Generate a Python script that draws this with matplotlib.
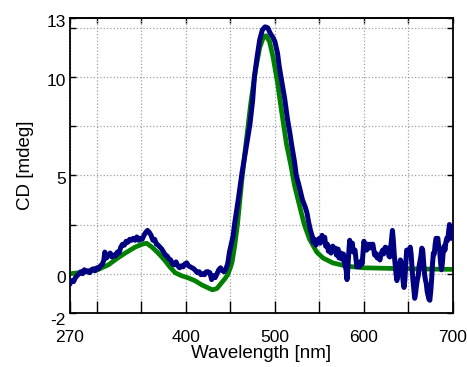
import matplotlib
matplotlib.use("Agg")
import matplotlib.pyplot as plt
import matplotlib.transforms as mtransforms

plt.rcParams['font.family'] = ['Liberation Sans', 'DejaVu Sans']

# fitted curve (green)
wl_fit = [270, 280, 290, 301, 313, 322, 332, 343, 351, 356, 362, 369, 376, 382,
          388, 395, 402, 410, 418, 425, 430, 435, 440, 444, 447, 450, 452, 455,
          458, 463, 468, 473, 478, 483, 487, 490, 494, 498, 503, 508, 513, 518,
          522, 528, 533, 539, 547, 554, 565, 581, 600, 650, 700]
cd_fit = [0.0, 0.05, 0.1, 0.2, 0.45, 0.75, 1.05, 1.35, 1.5, 1.55, 1.35, 1.05, 0.7, 0.35,
          0.05, -0.1, -0.2, -0.35, -0.57, -0.72, -0.82, -0.75, -0.47, -0.25, -0.05, 0.3, 0.6, 1.45,
          2.5, 4.8, 6.8, 8.7, 10.3, 11.5, 12.0, 12.1, 11.8, 11.0, 9.7, 8.1, 6.6, 5.5,
          4.5, 3.4, 2.5, 1.75, 1.1, 0.8, 0.55, 0.38, 0.3, 0.25, 0.22]

# measured spectrum (dark blue)
wl_data = [270, 272, 274, 276, 278, 280, 282, 284, 286, 288, 290, 292, 294, 296,
           298, 300, 302, 304, 306, 308, 309, 311, 313, 315, 317, 319, 321, 323,
           325, 327, 329, 331, 333, 335, 337, 339, 341, 343, 345, 347, 349, 351,
           353, 355, 357, 359, 361, 363, 365, 367, 369, 371, 373, 375, 377, 379,
           381, 383, 385, 387, 389, 391, 393, 395, 397, 399, 401, 403, 405, 407,
           409, 411, 413, 415, 417, 419, 421, 423, 425, 427, 429, 431, 433, 435,
           437, 439, 441, 443, 445, 447, 449, 451, 453, 455, 459, 463, 468, 472,
           475, 477, 480, 483, 486, 489, 492, 495, 498, 500, 503, 505, 508, 511,
           514, 517, 519, 522, 524, 527, 531, 534, 536, 538, 540, 542, 543, 545,
           546, 548, 550, 551, 553, 554, 556, 557, 559, 560, 562, 563, 565, 566,
           568, 569, 571, 572, 574, 575, 577, 578, 580, 581, 582, 583, 584, 585,
           587, 588, 590, 591, 592, 594, 595, 597, 598, 599, 600, 601, 603, 604,
           606, 607, 609, 610, 612, 613, 615, 616, 618, 619, 621, 622, 624, 625,
           627, 628, 629, 630, 632, 633, 634, 635, 636, 637, 638, 639, 641, 642,
           643, 644, 645, 646, 647, 648, 650, 651, 652, 653, 654, 655, 656, 657,
           658, 659, 660, 661, 662, 664, 665, 666, 667, 668, 669, 670, 671, 672,
           673, 674, 675, 676, 677, 678, 679, 680, 681, 682, 683, 684, 685, 686,
           687, 688, 689, 690, 691, 692, 693, 694, 695, 696, 697, 698, 699, 700]
cd_data = [-0.5, -0.35, -0.4, -0.2, -0.1, 0.0, 0.1, 0.0, 0.2, 0.1, 0.15, 0.05, 0.2, 0.25,
           0.15, 0.3, 0.25, 0.4, 0.45, 0.7, 1.1, 0.8, 0.95, 1.05, 0.85, 0.95, 0.9, 1.1,
           1.05, 1.35, 1.5, 1.45, 1.65, 1.6, 1.75, 1.7, 1.8, 1.7, 1.87, 1.7, 1.8, 1.75,
           1.95, 2.1, 2.2, 2.1, 1.95, 1.7, 1.75, 1.5, 1.45, 1.35, 1.25, 1.1, 0.95, 0.9,
           0.75, 0.7, 0.5, 0.45, 0.6, 0.4, 0.3, 0.4, 0.35, 0.5, 0.55, 0.4, 0.35, 0.3,
           0.25, 0.15, 0.05, 0.1, -0.05, 0.0, -0.05, 0.1, 0.1, 0.05, -0.3, -0.1, -0.2, 0.0,
           0.2, 0.3, 0.15, 0.1, 0.25, 0.5, 1.1, 1.5, 1.9, 2.6, 3.8, 5.1, 6.5, 7.6,
           8.8, 10.0, 11.0, 11.9, 12.4, 12.55, 12.5, 12.2, 12.0, 11.8, 11.2, 10.5, 9.7, 8.9,
           7.9, 7.1, 6.5, 5.7, 5.0, 4.5, 3.75, 3.4, 3.1, 2.6, 2.2, 1.9, 1.6, 1.75,
           1.45, 1.6, 1.8, 1.55, 1.95, 1.7, 1.85, 1.4, 1.5, 1.15, 1.35, 1.05, 1.4, 1.2,
           1.3, 0.95, 1.25, 0.8, 1.05, 0.75, 1.0, 0.55, 0.2, -0.3, 0.3, 1.1, 1.7, 1.4,
           1.55, 1.1, 1.2, 0.75, 0.35, 0.55, 0.35, 0.65, 0.5, 1.1, 1.65, 1.45, 1.2, 1.5,
           1.3, 1.5, 1.35, 1.5, 0.95, 1.05, 0.8, 0.95, 0.7, 1.0, 1.2, 1.0, 1.35, 1.15,
           1.3, 0.9, 0.85, 1.3, 2.2, 1.7, 1.0, 0.5, 0.0, -0.35, -0.1, 0.3, 0.7, 0.55,
           0.1, -0.4, -0.7, -0.3, 0.5, 1.2, 1.05, 1.2, 1.35, 1.0, 0.3, -0.3, -0.8, -1.25,
           -1.0, -0.6, -0.3, -0.1, 0.4, 0.9, 1.3, 1.2, 0.6, 0.0, -0.3, -0.5, -0.9, -1.1,
           -1.3, -1.35, -0.9, -0.3, 0.5, 1.05, 1.0, 1.5, 1.8, 1.7, 1.8, 1.35, 1.2, 0.6,
           0.2, 0.5, 1.1, 1.4, 1.2, 1.6, 1.8, 1.7, 2.1, 2.5, 2.3, 1.8, 2.0, 2.35]

x_ticks = [270, 300, 350, 400, 450, 500, 550, 600, 650, 700]
x_labels = ['270', '', '', '400', '', '500', '', '600', '', '700']
y_ticks = [-2, 0, 2.5, 5, 7.5, 10, 12.5, 13]
y_labels = ['-2', '0', '', '5', '', '10', '', '13']

fig = plt.figure(figsize=(4.67, 3.67), dpi=100)
ax = fig.add_axes([0.150, 0.147, 0.820, 0.804])

ax.plot(wl_fit, cd_fit, color='#008000', lw=3.4, solid_capstyle='round', zorder=2)
ax.plot(wl_data, cd_data, color='#000080', lw=3.6, solid_joinstyle='round', zorder=3)

ax.set_xlim(270, 700)
ax.set_ylim(-2, 13)
ax.set_xticks(x_ticks)
ax.set_xticklabels(x_labels)
ax.set_yticks(y_ticks)
ax.set_yticklabels(y_labels)

ax.grid(True, color='#a0a0a0', linestyle=':', linewidth=0.9)
ax.tick_params(axis='x', direction='in', length=9, width=1.0, labelsize=12.5, pad=12)
ax.tick_params(axis='y', direction='in', length=4.5, width=1.0, labelsize=12.5,
               right=True, pad=3)

# y tick labels sit a little low in the original
for lab, txt in zip(ax.get_yticklabels(), y_labels):
    dy = -6 if txt == '-2' else -3
    lab.set_transform(lab.get_transform() +
                      mtransforms.ScaledTranslation(0, dy / 100, fig.dpi_scale_trans))

top = ax.secondary_xaxis('top')
top.set_xticks(x_ticks)
top.tick_params(direction='in', length=3.5, width=1.0, labeltop=False)

for sp in list(ax.spines.values()) + list(top.spines.values()):
    sp.set_linewidth(1.3)

ax.set_xlabel('Wavelength [nm]', fontsize=13.5, labelpad=0)
ax.set_ylabel('CD [mdeg]', fontsize=13.5, labelpad=9)

fig.savefig('out.png', dpi=100)
